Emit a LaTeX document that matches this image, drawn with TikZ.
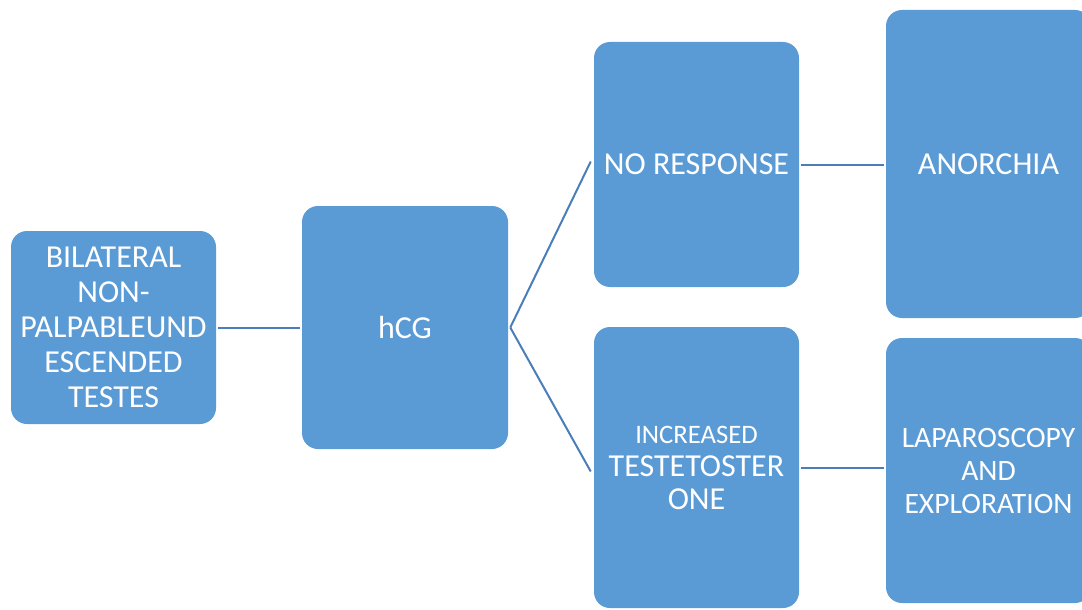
\documentclass[tikz,border=0pt]{standalone}
\usepackage{fontspec}
\setmainfont{Carlito}
\usepackage{tikz}

\definecolor{boxblue}{RGB}{91,155,213}
\definecolor{linkblue}{RGB}{74,126,187}

\tikzset{
  blockbox/.style={fill=boxblue, draw=none, rounded corners=12pt, text=white,
    align=center, inner sep=0.75pt, font=\fontsize{24}{26.25}\selectfont},
  link/.style={draw=linkblue, line width=1.5pt}
}

\begin{document}
\begin{tikzpicture}[x=0.75pt,y=0.75pt,yscale=-1,xscale=1]
  %set diagram area: 1082 wide, 610 high
  \useasboundingbox (0,0) rectangle (1082,610);

  %Shape: Rounded Rect [id:bilateral]
  \node [blockbox, minimum width=153.75pt, minimum height=144.75pt] (bilat) at (113.5,327.5)
    {BILATERAL\\NON-\\PALPABLEUND\\ESCENDED\\TESTES};
  %Shape: Rounded Rect [id:hcg]
  \node [blockbox, minimum width=154.5pt, minimum height=182.25pt] (hcg) at (405,327.5) {hCG};
  %Shape: Rounded Rect [id:noresponse]
  \node [blockbox, minimum width=153.75pt, minimum height=183.75pt] (noresp) at (696.5,164.5) {NO RESPONSE};
  %Shape: Rounded Rect [id:increased]
  \node [blockbox, minimum width=153.75pt, minimum height=210.75pt, font=\fontsize{24}{24.75}\selectfont] (incr) at (696.5,467.5)
    {{\fontsize{20}{24.75}\selectfont INCREASED}\\TESTETOSTER\\ONE};
  %Shape: Rounded Rect [id:anorchia]
  \node [blockbox, minimum width=153.75pt, minimum height=231pt] (anor) at (988.5,164) {ANORCHIA};
  %Shape: Rounded Rect [id:laparoscopy]
  \node [blockbox, minimum width=153.75pt, minimum height=198.75pt, font=\fontsize{22.2}{24.75}\selectfont] (lapar) at (988.5,470.5)
    {LAPAROSCOPY\\AND\\EXPLORATION};

  %Straight Lines
  \draw [link] ([xshift=1.5pt]bilat.east) -- ([xshift=-1.5pt]hcg.east -| hcg.west);
  \draw [link] ([xshift=1.5pt]hcg.east) -- ([xshift=-2.25pt,yshift=-2.25pt]noresp.west);
  \draw [link] ([xshift=1.5pt]hcg.east) -- ([xshift=-2.25pt,yshift=3pt]incr.west);
  \draw [link] ([xshift=1.5pt]noresp.east) -- ([xshift=-1.5pt]noresp.east -| anor.west);
  \draw [link] ([xshift=1.5pt]incr.east) -- ([xshift=-1.5pt]incr.east -| lapar.west);

\end{tikzpicture}
\end{document}
